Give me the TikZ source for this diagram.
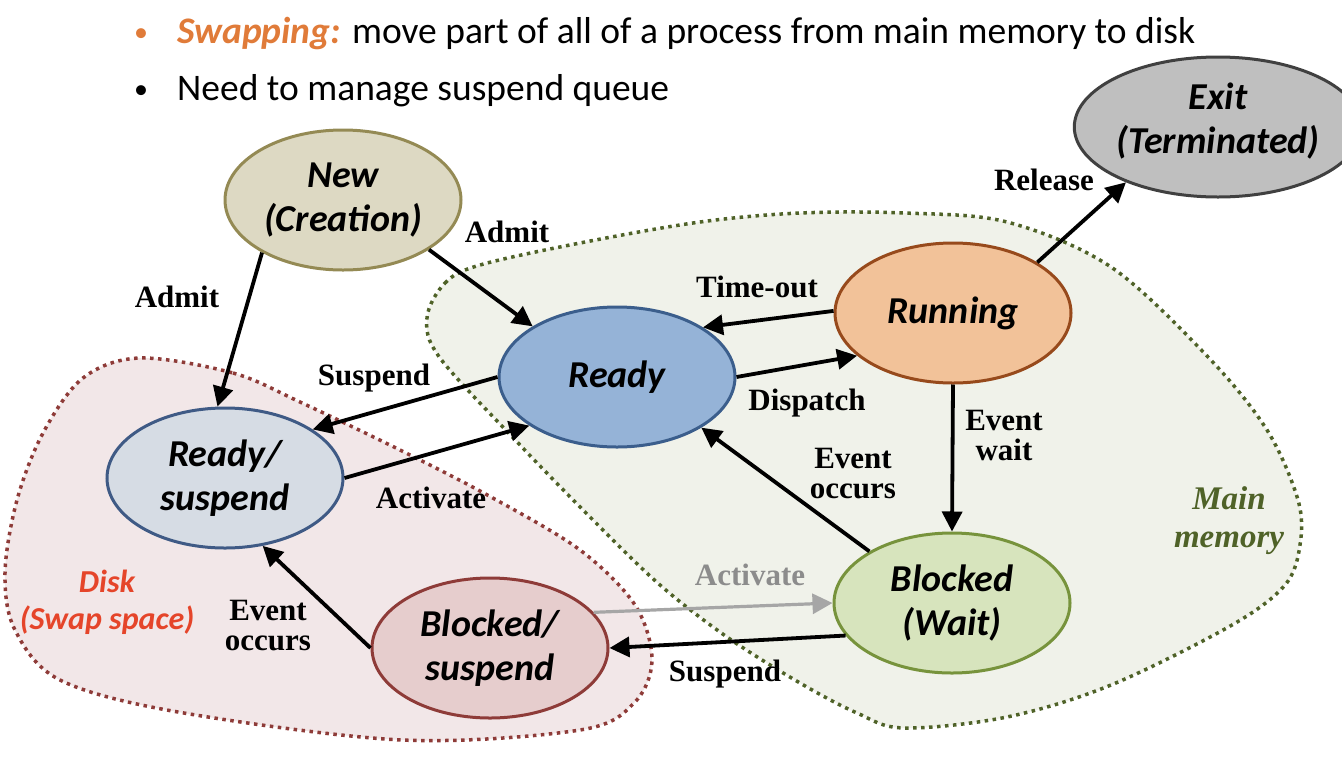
\documentclass[tikz,border=0pt]{standalone}
\usepackage{fontspec}
\setmainfont{Carlito}
\newfontfamily\edgefont{Liberation Serif}
\usetikzlibrary{arrows.meta,shapes.geometric}
\definecolor{orangeT}{HTML}{E07B39}
\definecolor{newF}{HTML}{DDD9C3}\definecolor{newD}{HTML}{948A54}
\definecolor{exitF}{HTML}{BFBFBF}\definecolor{exitD}{HTML}{404040}
\definecolor{runF}{HTML}{F2C299}\definecolor{runD}{HTML}{974A1C}
\definecolor{readyF}{HTML}{95B3D7}\definecolor{readyD}{HTML}{3B5E8C}
\definecolor{rsF}{HTML}{D6DCE4}\definecolor{rsD}{HTML}{3F5A85}
\definecolor{bsF}{HTML}{E6CDCD}\definecolor{bsD}{HTML}{8E3B38}
\definecolor{bwF}{HTML}{D7E4BD}\definecolor{bwD}{HTML}{77933C}
\definecolor{diskF}{HTML}{F2E7E8}\definecolor{diskD}{HTML}{8E3B38}
\definecolor{memF}{HTML}{F0F2EA}\definecolor{memD}{HTML}{4F6228}
\definecolor{diskT}{HTML}{E5452A}
\definecolor{grayA}{HTML}{A6A6A6}\definecolor{grayT}{HTML}{8C8C8C}
\begin{document}
\begin{tikzpicture}[x=1pt,y=-1pt,
  state/.style={ellipse, minimum width=236pt, minimum height=140pt, inner sep=0pt,
    line width=3pt, align=center, font=\fontsize{38}{44}\selectfont\bfseries\itshape},
  lbl/.style={font=\edgefont\fontsize{31}{30}\selectfont\bfseries, align=center, inner sep=0pt},
  arr/.style={line width=3.8pt, -{Triangle[length=20pt,width=20pt]}},
  region/.style={line width=3.5pt, dash pattern=on 3.5pt off 4.5pt},
  title/.style={font=\fontsize{37.5}{40}\selectfont, anchor=base west, inner sep=0pt},
]
\useasboundingbox (0,0) rectangle (1342,756);
% regions
\filldraw[region, fill=memF, draw=memD] plot[smooth cycle, tension=0.55] coordinates {
  (427,318) (445,283) (480,265) (580,243) (700,222) (800,213) (904,213) (1007,222)
  (1111,267) (1208,357) (1267,430) (1298,500) (1300,545) (1285,585) (1232,625)
  (1111,685) (1007,717) (904,728) (857,713) (800,683) (727,637) (660,585) (593,520)
  (520,445) (440,358)};
\filldraw[region, fill=diskF, draw=diskD] plot[smooth cycle, tension=0.55] coordinates {
  (140,358) (233,373) (300,402) (400,450) (491,497) (580,550) (635,605) (652,660)
  (634,703) (580,730) (402,740) (178,712) (60,680) (15,630) (5,573) (17,500)
  (43,433) (83,378)};
% title
\node[title, font=\fontsize{28}{30}\selectfont, text=orangeT] (b1) at (134,41) {\textbullet};
\node[title] (t1) at (177,43) {\textcolor{orangeT}{\bfseries\itshape Swapping:} move part of all of a process from main memory to disk};
\node[title, font=\fontsize{28}{30}\selectfont] (b2) at (134,98) {\textbullet};
\node[title] (t2) at (177,100) {Need to manage suspend queue};
% states
\node[state, fill=newF, draw=newD] (new) at (343,200) {New\\(Creation)\rule[-6pt]{0pt}{0pt}};
\node[state, fill=exitF, draw=exitD] (exit) at (1218,127) {Exit\\(Terminated)\rule[-18pt]{0pt}{0pt}};
\node[state, fill=runF, draw=runD] (run) at (953,313) {Running};
\node[state, fill=readyF, draw=readyD] (ready) at (617,377) {Ready};
\node[state, fill=rsF, draw=rsD] (rs) at (225,478) {Ready/\\suspend};
\node[state, fill=bsF, draw=bsD] (bs) at (490,648) {Blocked/\\suspend};
\node[state, fill=bwF, draw=bwD] (bw) at (952,603) {Blocked\\(Wait)};
% region labels
\node[font=\fontsize{32}{37}\selectfont\bfseries\itshape, text=diskT, align=center] (disk) at (107,602) {Disk\\(Swap space)};
\node[font=\edgefont\fontsize{33}{38}\selectfont\bfseries\itshape, text=memD, align=center] (mem) at (1229,521) {Main\\memory};
% transitions
\draw[arr] (new.213.5) -- (rs.96.5);
\draw[arr] (new.-30.8) -- (ready.149.2);
\draw[arr] (run.179) -- (ready.30.6);
\draw[arr] (ready.0) -- (run.204.2);
\draw[arr] (run.31.9) -- (exit.211);
\draw[arr] (run.270) -- (bw.90);
\draw[arr] (bw.148.8) -- (ready.-31.1);
\draw[arr] (ready.180) -- (rs.29.5);
\draw[arr] (rs.0) -- (ready.209.5);
\draw[arr] (bs.180) -- (rs.-61.2);
\draw[arr, draw=grayA, -{Triangle[length=20pt,width=20pt,fill=grayA]}, line width=3.2pt] (bs.19.4) -- (bw.180);
\draw[arr] (bw.197) -- (bs.0.5);
% transition labels
\node[lbl] (l1) at (177,297) {Admit};
\node[lbl] (l2) at (507,232) {Admit};
\node[lbl] (l3) at (757,287) {Time-out};
\node[lbl] (l4) at (807,403) {Dispatch};
\node[lbl] (l5) at (1044,180) {Release};
\node[lbl] (l6) at (1004,435) {Event\\wait};
\node[lbl] (l7) at (853,474) {Event\\occurs};
\node[lbl] (l8) at (374,378) {Suspend};
\node[lbl] (l9) at (431,498) {Activate};
\node[lbl] (l10) at (268,626) {Event\\occurs};
\node[lbl, text=grayT] (l11) at (750,575) {Activate};
\node[lbl] (l12) at (725,674) {Suspend};
\end{tikzpicture}
\end{document}
